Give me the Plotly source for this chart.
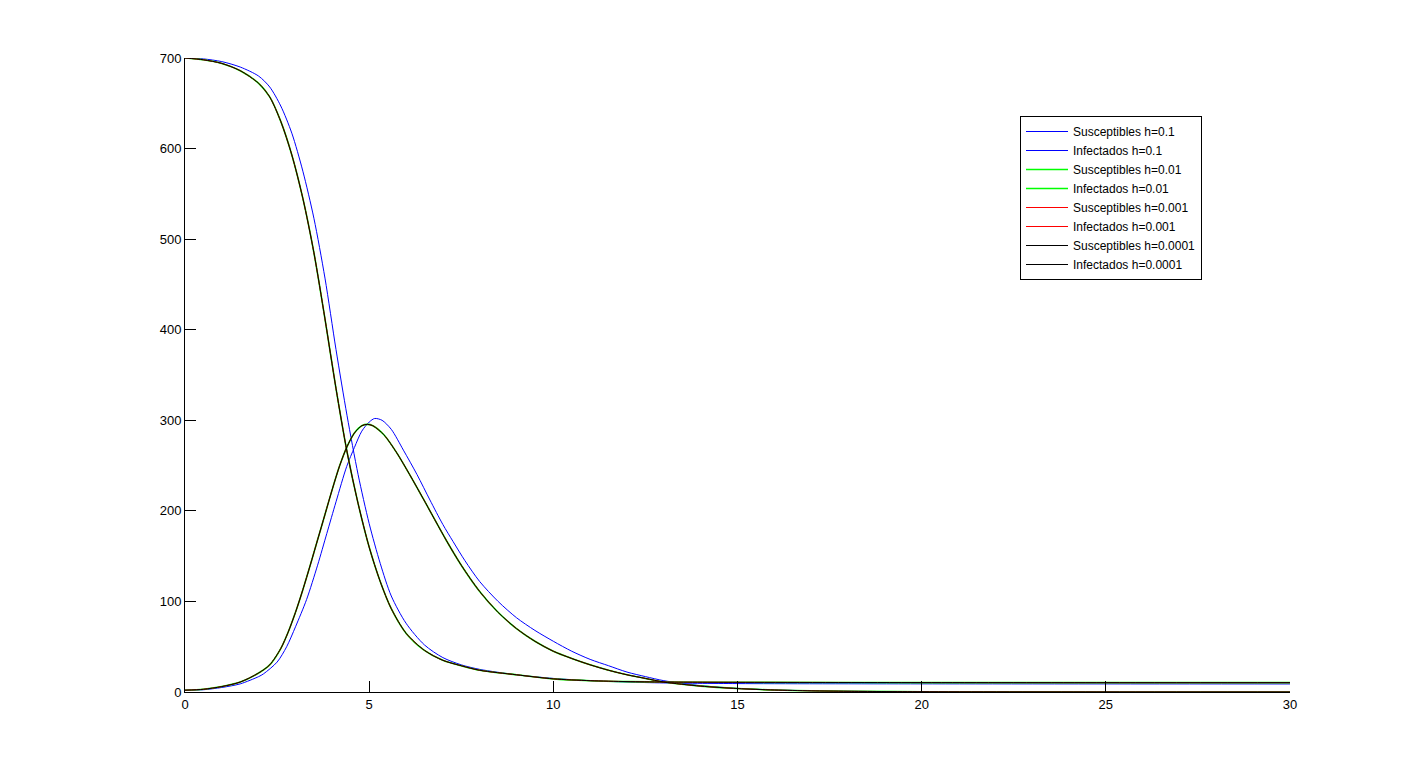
import plotly.graph_objects as go

# ---- data ----
# accurate solution (h=0.0001, h=0.001, h=0.01 nearly coincide)
t_S = [0, 0.5, 1.0, 1.5, 2.0, 2.3, 2.6, 2.9, 3.2, 3.5, 3.8, 4.1, 4.4, 4.7, 5.0, 5.3, 5.6,
       6.0, 6.5, 7.0, 7.5, 8.0, 9.0, 10, 11, 12, 13, 15, 20, 25, 30]
S_fine = [700, 698, 694, 686, 672, 657, 630, 593, 545, 485, 412, 335, 265, 208, 160, 122, 92,
          65, 46, 35, 29, 24, 19, 14.5, 12.5, 11.5, 11, 10.7, 10.4, 10.3, 10.3]

t_I = [0, 0.5, 1.0, 1.5, 2.0, 2.3, 2.6, 2.8, 3.0, 3.2, 3.4, 3.6, 3.8, 4.0, 4.2, 4.4, 4.6,
       4.8, 4.95, 5.1, 5.4, 5.75, 6.1, 6.46, 7.1, 7.5, 8.0, 8.5, 9.0, 9.5, 10.0, 10.5, 11.0,
       11.5, 12.0, 12.5, 13.0, 14, 15, 16, 17, 18, 20, 25, 30]
I_fine = [2, 3, 6, 11, 21, 30, 48, 66, 88, 113, 140, 168, 196, 224, 250, 271, 286,
          294, 295.5, 294, 284, 264, 240, 214, 167, 140, 111, 88, 70, 56, 45, 37, 30,
          24, 19, 15, 11, 6.5, 3.8, 2.2, 1.3, 0.8, 0.3, 0.05, 0]

# coarse step h=0.1
t_S_coarse = [0, 0.5, 1, 1.5, 2, 2.3, 2.6, 2.9, 3.2, 3.5, 3.8, 4.1, 4.4, 4.7, 5.0, 5.3, 5.6,
              6.0, 6.5, 7, 7.5, 8, 9, 10, 11, 12, 13, 15, 20, 30]
S_coarse = [700, 699, 696, 690, 680, 668, 647, 617, 575, 523, 457, 378, 305, 240, 186, 142, 106,
            76, 52, 38, 30, 25, 19, 15, 12.5, 11, 10, 9.3, 9, 8.9]

t_I_coarse = [0, 0.5, 1, 1.5, 2.0, 2.13, 2.5, 2.76, 3.0, 3.3, 3.6, 3.85, 4.1, 4.39, 4.6, 4.8,
              5.0, 5.15, 5.35, 5.6, 5.93, 6.3, 6.65, 7.0, 7.28, 7.6, 8.0, 8.5, 9.0, 9.5, 10.0,
              10.5, 11.0, 11.5, 12.0, 12.5, 13.0, 14, 15, 16, 17, 18, 20, 25, 30]
I_coarse = [2, 2.5, 5, 9, 17, 20, 33, 50, 72, 102, 140, 175, 210, 249, 270, 288,
            298, 302, 300, 290, 267, 240, 212, 185, 166, 145, 122, 100, 82, 68, 56,
            45, 36, 29, 22, 17, 12.5, 7, 4, 2.3, 1.4, 0.8, 0.3, 0.05, 0]

x_ticks = [0, 5, 10, 15, 20, 25, 30]
y_ticks = [0, 100, 200, 300, 400, 500, 600, 700]

series = [
    ("Susceptibles h=0.1", t_S_coarse, S_coarse, "#0000ff", 1),
    ("Infectados h=0.1", t_I_coarse, I_coarse, "#0000ff", 1),
    ("Susceptibles h=0.01", t_S, S_fine, "#00ff00", 1.6),
    ("Infectados h=0.01", t_I, I_fine, "#00ff00", 1.6),
    ("Susceptibles h=0.001", t_S, S_fine, "#ff0000", 1),
    ("Infectados h=0.001", t_I, I_fine, "#ff0000", 1),
    ("Susceptibles h=0.0001", t_S, S_fine, "#000000", 1),
    ("Infectados h=0.0001", t_I, I_fine, "#000000", 1),
]

fig = go.Figure()
for name, xs, ys, col, w in series:
    fig.add_trace(go.Scatter(x=xs, y=ys, mode="lines", name=name,
                             line=dict(color=col, width=w, shape="spline", smoothing=0.8)))

axis_font = dict(family="Liberation Sans, Arial, sans-serif", size=13, color="#000000")
fig.update_layout(
    width=1409, height=763,
    paper_bgcolor="#ffffff", plot_bgcolor="#ffffff",
    margin=dict(l=177, r=127, t=50, b=79),
    font=axis_font,
    showlegend=True,
    legend=dict(x=(1020 - 185) / 1105, y=(692 - 116) / 634, xanchor="left", yanchor="top",
                bgcolor="#ffffff", bordercolor="#000000", borderwidth=1,
                font=dict(family="Liberation Sans, Arial, sans-serif", size=12, color="#000000"),
                tracegroupgap=0, itemwidth=42),
    xaxis=dict(range=[0, 30], tickvals=x_ticks, ticktext=[str(v) for v in x_ticks],
               showgrid=False, zeroline=False, showline=True, linecolor="#000000", linewidth=1,
               ticks="inside", ticklen=11, tickcolor="#000000", tickwidth=1,
               tickfont=axis_font, mirror=False),
    yaxis=dict(range=[0, 700], tickvals=y_ticks, ticktext=[str(v) for v in y_ticks],
               showgrid=False, zeroline=False, showline=True, linecolor="#000000", linewidth=1,
               ticks="inside", ticklen=11, tickcolor="#000000", tickwidth=1,
               tickfont=axis_font, mirror=False),
)

fig.write_html("out.html")
